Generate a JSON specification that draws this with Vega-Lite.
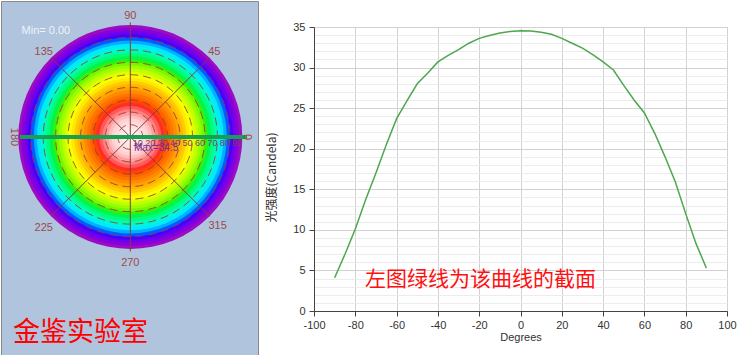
{
  "$schema": "https://vega.github.io/schema/vega-lite/v6.json",
  "background": "white",
  "padding": 0,
  "spacing": 6,
  "config": {
    "view": {"stroke": null},
    "axis": {"labelFont": "Liberation Sans", "labelFontSize": 11, "labelColor": "#333333", "titleFont": "Liberation Sans", "titleColor": "#333333", "titleFontWeight": "normal", "domainColor": "#555555", "tickColor": "#555555"}
  },
  "hconcat": [
    {
      "width": 257,
      "height": 355,
      "view": {"fill": "#b0c4de", "stroke": "#8a8a8a"},
      "layer": [
        {
          "data": {"values": [
            {"r": 90, "v": 4.7}, {"r": 87.5, "v": 6.3}, {"r": 85, "v": 7.9}, {"r": 82.5, "v": 9.6},
            {"r": 80, "v": 11.3}, {"r": 77.5, "v": 13.0}, {"r": 75, "v": 14.75}, {"r": 72.5, "v": 16.25},
            {"r": 70, "v": 17.75}, {"r": 67.5, "v": 19.25}, {"r": 65, "v": 20.75}, {"r": 62.5, "v": 22.2},
            {"r": 60, "v": 23.6}, {"r": 57.5, "v": 24.85}, {"r": 55, "v": 26.05}, {"r": 52.5, "v": 27.05},
            {"r": 50, "v": 28.05}, {"r": 47.5, "v": 28.85}, {"r": 45, "v": 29.6}, {"r": 42.5, "v": 30.15},
            {"r": 40, "v": 30.65}, {"r": 37.5, "v": 31.15}, {"r": 35, "v": 31.6}, {"r": 32.5, "v": 32.0},
            {"r": 30, "v": 32.4}, {"r": 27.5, "v": 32.75}, {"r": 25, "v": 33.05}, {"r": 22.5, "v": 33.35},
            {"r": 20, "v": 33.6}, {"r": 17.5, "v": 33.85}, {"r": 15, "v": 34.05}, {"r": 12.5, "v": 34.2},
            {"r": 10, "v": 34.3}, {"r": 7.5, "v": 34.4}, {"r": 5, "v": 34.5}, {"r": 2.5, "v": 34.55}
          ]},
          "mark": {"type": "arc", "theta": 0, "theta2": 6.2832},
          "encoding": {
            "x": {"datum": 0, "type": "quantitative", "scale": {"domain": [-103.9, 102.6], "nice": false, "zero": false}, "axis": null},
            "y": {"datum": 0, "type": "quantitative", "scale": {"domain": [-176, 109.3], "nice": false, "zero": false}, "axis": null},
            "radius": {"field": "r", "type": "quantitative", "stack": null, "scale": {"type": "linear", "domain": [0, 90], "range": [0, 112], "zero": true, "nice": false}},
            "color": {"field": "v", "type": "quantitative", "legend": null, "scale": {
              "type": "linear",
              "domain": [4.7, 8, 10.5, 14.5, 18.5, 21.9, 25.3, 28.3, 30.2, 31.7, 32.65, 32.7, 33.3, 34, 34.55],
              "range": ["#9c0cc4", "#6a00f0", "#0a0aff", "#00e8ff", "#00ff90", "#10f010", "#a8ff00", "#ffff00", "#ffb400", "#ff7000", "#ff3000", "#ff2020", "#ff7878", "#ffd0d0", "#ffffff"]
            }}
          }
        },
        {
          "data": {"values": [{"r": 10}, {"r": 20}, {"r": 30}, {"r": 40}, {"r": 50}, {"r": 60}, {"r": 70}, {"r": 80}]},
          "mark": {"type": "arc", "theta": 0, "theta2": 6.2832, "fillOpacity": 0, "stroke": "#9a3c3c", "strokeWidth": 1, "strokeDash": [8, 5], "strokeOpacity": 0.85},
          "encoding": {
            "x": {"datum": 0, "type": "quantitative"},
            "y": {"datum": 0, "type": "quantitative"},
            "radius": {"field": "r", "type": "quantitative", "stack": null}
          }
        },
        {
          "data": {"values": [
            {"x": 0, "y": 92, "x2": 0, "y2": -92},
            {"x": 63.6, "y": 63.6, "x2": -63.6, "y2": -63.6},
            {"x": -63.6, "y": 63.6, "x2": 63.6, "y2": -63.6}
          ]},
          "mark": {"type": "rule", "color": "#8b3a3a", "strokeWidth": 1},
          "encoding": {
            "x": {"field": "x", "type": "quantitative"},
            "y": {"field": "y", "type": "quantitative"},
            "x2": {"field": "x2"},
            "y2": {"field": "y2"}
          }
        },
        {
          "data": {"values": [{"x": -88.6, "x2": 93.8, "y": 0}]},
          "mark": {"type": "rule", "color": "#17a050", "strokeWidth": 4},
          "encoding": {
            "x": {"field": "x", "type": "quantitative"},
            "x2": {"field": "x2"},
            "y": {"field": "y", "type": "quantitative"}
          }
        },
        {
          "data": {"values": [
            {"t": "90", "x": 0, "y": 97.2},
            {"t": "45", "x": 67.5, "y": 68.5},
            {"t": "135", "x": -69.6, "y": 68.5},
            {"t": "225", "x": -69.6, "y": -72.9},
            {"t": "315", "x": 70.2, "y": -71.8},
            {"t": "270", "x": 0, "y": -101}
          ]},
          "mark": {"type": "text", "font": "Liberation Sans", "fontSize": 11, "color": "#a04848", "baseline": "middle"},
          "encoding": {
            "x": {"field": "x", "type": "quantitative"},
            "y": {"field": "y", "type": "quantitative"},
            "text": {"field": "t"}
          }
        },
        {
          "data": {"values": [{"t": "180", "x": -93.7, "y": 0}, {"t": "0", "x": 93.8, "y": 0}]},
          "mark": {"type": "text", "font": "Liberation Sans", "fontSize": 11, "color": "#a04848", "baseline": "middle", "angle": 90},
          "encoding": {
            "x": {"field": "x", "type": "quantitative"},
            "y": {"field": "y", "type": "quantitative"},
            "text": {"field": "t"}
          }
        },
        {
          "data": {"values": [
            {"t": "10", "x": 10}, {"t": "20", "x": 20}, {"t": "30", "x": 30}, {"t": "40", "x": 40},
            {"t": "50", "x": 50}, {"t": "60", "x": 60}, {"t": "70", "x": 70}, {"t": "80", "x": 80}, {"t": "90", "x": 90}
          ]},
          "mark": {"type": "text", "font": "Liberation Sans", "fontSize": 9, "color": "#7b3f6e", "align": "right", "baseline": "middle"},
          "encoding": {
            "x": {"field": "x", "type": "quantitative"},
            "y": {"datum": -5.2, "type": "quantitative"},
            "text": {"field": "t"}
          }
        },
        {
          "data": {"values": [{"t": "Max=34.5", "x": 3, "y": -8.6}]},
          "mark": {"type": "text", "font": "Liberation Sans", "fontSize": 10, "color": "#7030a0", "align": "left", "baseline": "middle"},
          "encoding": {
            "x": {"field": "x", "type": "quantitative"},
            "y": {"field": "y", "type": "quantitative"},
            "text": {"field": "t"}
          }
        },
        {
          "data": {"values": [{"t": "Min= 0.00", "x": -67.8, "y": 85.1}]},
          "mark": {"type": "text", "font": "Liberation Sans", "fontSize": 11, "color": "#eef2fa", "baseline": "middle"},
          "encoding": {
            "x": {"field": "x", "type": "quantitative"},
            "y": {"field": "y", "type": "quantitative"},
            "text": {"field": "t"}
          }
        },
        {
          "data": {"values": [{"t": "金鉴实验室", "x": -94.3, "y": -157.5}]},
          "mark": {"type": "text", "font": "Noto Sans CJK SC", "fontSize": 27, "color": "#ff0000", "align": "left", "baseline": "middle"},
          "encoding": {
            "x": {"field": "x", "type": "quantitative"},
            "y": {"field": "y", "type": "quantitative"},
            "text": {"field": "t"}
          }
        }
      ]
    },
    {
      "spacing": 0,
      "vconcat": [
        {
          "width": 10,
          "height": 19,
          "data": {"values": []},
          "mark": {"type": "text"},
          "encoding": {"text": {"value": ""}}
        },
        {
          "width": 413,
          "height": 284,
          "view": {"stroke": "#c8c8c8"},
          "resolve": {"axis": {"y": "independent"}},
          "layer": [
            {
              "data": {"values": [
                {"deg": -90, "cd": 4.1}, {"deg": -85, "cd": 7.0}, {"deg": -80, "cd": 10.1}, {"deg": -75, "cd": 13.7},
                {"deg": -70, "cd": 17.0}, {"deg": -65, "cd": 20.5}, {"deg": -60, "cd": 23.7}, {"deg": -55, "cd": 25.9},
                {"deg": -50, "cd": 28.0}, {"deg": -45, "cd": 29.3}, {"deg": -40, "cd": 30.7}, {"deg": -35, "cd": 31.5},
                {"deg": -30, "cd": 32.2}, {"deg": -25, "cd": 33.0}, {"deg": -20, "cd": 33.6}, {"deg": -15, "cd": 33.95},
                {"deg": -10, "cd": 34.25}, {"deg": -5, "cd": 34.45}, {"deg": 0, "cd": 34.55}, {"deg": 5, "cd": 34.5},
                {"deg": 10, "cd": 34.35}, {"deg": 15, "cd": 34.1}, {"deg": 20, "cd": 33.6}, {"deg": 25, "cd": 33.0},
                {"deg": 30, "cd": 32.4}, {"deg": 35, "cd": 31.6}, {"deg": 40, "cd": 30.7}, {"deg": 45, "cd": 29.7},
                {"deg": 50, "cd": 27.8}, {"deg": 55, "cd": 26.0}, {"deg": 60, "cd": 24.4}, {"deg": 65, "cd": 21.9},
                {"deg": 70, "cd": 19.0}, {"deg": 75, "cd": 15.9}, {"deg": 80, "cd": 12.0}, {"deg": 85, "cd": 8.3},
                {"deg": 90, "cd": 5.3}
              ]},
              "mark": {"type": "line", "color": "#4ea64e", "strokeWidth": 1.5},
              "encoding": {
                "x": {"field": "deg", "type": "quantitative", "title": "Degrees",
                  "scale": {"domain": [-100, 100], "nice": false, "zero": false},
                  "axis": {"values": [-100, -80, -60, -40, -20, 0, 20, 40, 60, 80, 100], "labelExpr": "'' + datum.value", "labelFlush": false, "labelOverlap": false, "grid": true, "gridColor": "#d2d2d2", "tickSize": 5, "labelPadding": 3, "titleFontSize": 11, "titlePadding": 1, "domainColor": "#444444", "tickColor": "#444444"}},
                "y": {"field": "cd", "type": "quantitative", "title": "光强度(Candela)",
                  "scale": {"domain": [0, 35], "nice": false, "zero": true},
                  "axis": {"values": [0, 5, 10, 15, 20, 25, 30, 35], "grid": true, "gridColor": "#d2d2d2", "tickSize": 5, "labelPadding": 4, "titleFont": "Noto Sans CJK SC", "titleFontSize": 12, "titlePadding": 14, "titleY": 150, "domainColor": "#444444", "tickColor": "#444444"}}
              }
            },
            {
              "data": {"values": [{"note": "左图绿线为该曲线的截面", "deg": -75.3, "cd": 3.8}]},
              "mark": {"type": "text", "font": "Noto Sans CJK SC", "fontSize": 21, "color": "#ff1010", "align": "left", "baseline": "middle"},
              "encoding": {
                "x": {"field": "deg", "type": "quantitative"},
                "y": {"field": "cd", "type": "quantitative",
                  "axis": {"orient": "right", "title": null, "labels": false, "ticks": false, "domain": false, "grid": true, "gridColor": "#ececec",
                    "values": [1, 2, 3, 4, 6, 7, 8, 9, 11, 12, 13, 14, 16, 17, 18, 19, 21, 22, 23, 24, 26, 27, 28, 29, 31, 32, 33, 34]}},
                "text": {"field": "note"}
              }
            }
          ]
        }
      ]
    }
  ]
}
